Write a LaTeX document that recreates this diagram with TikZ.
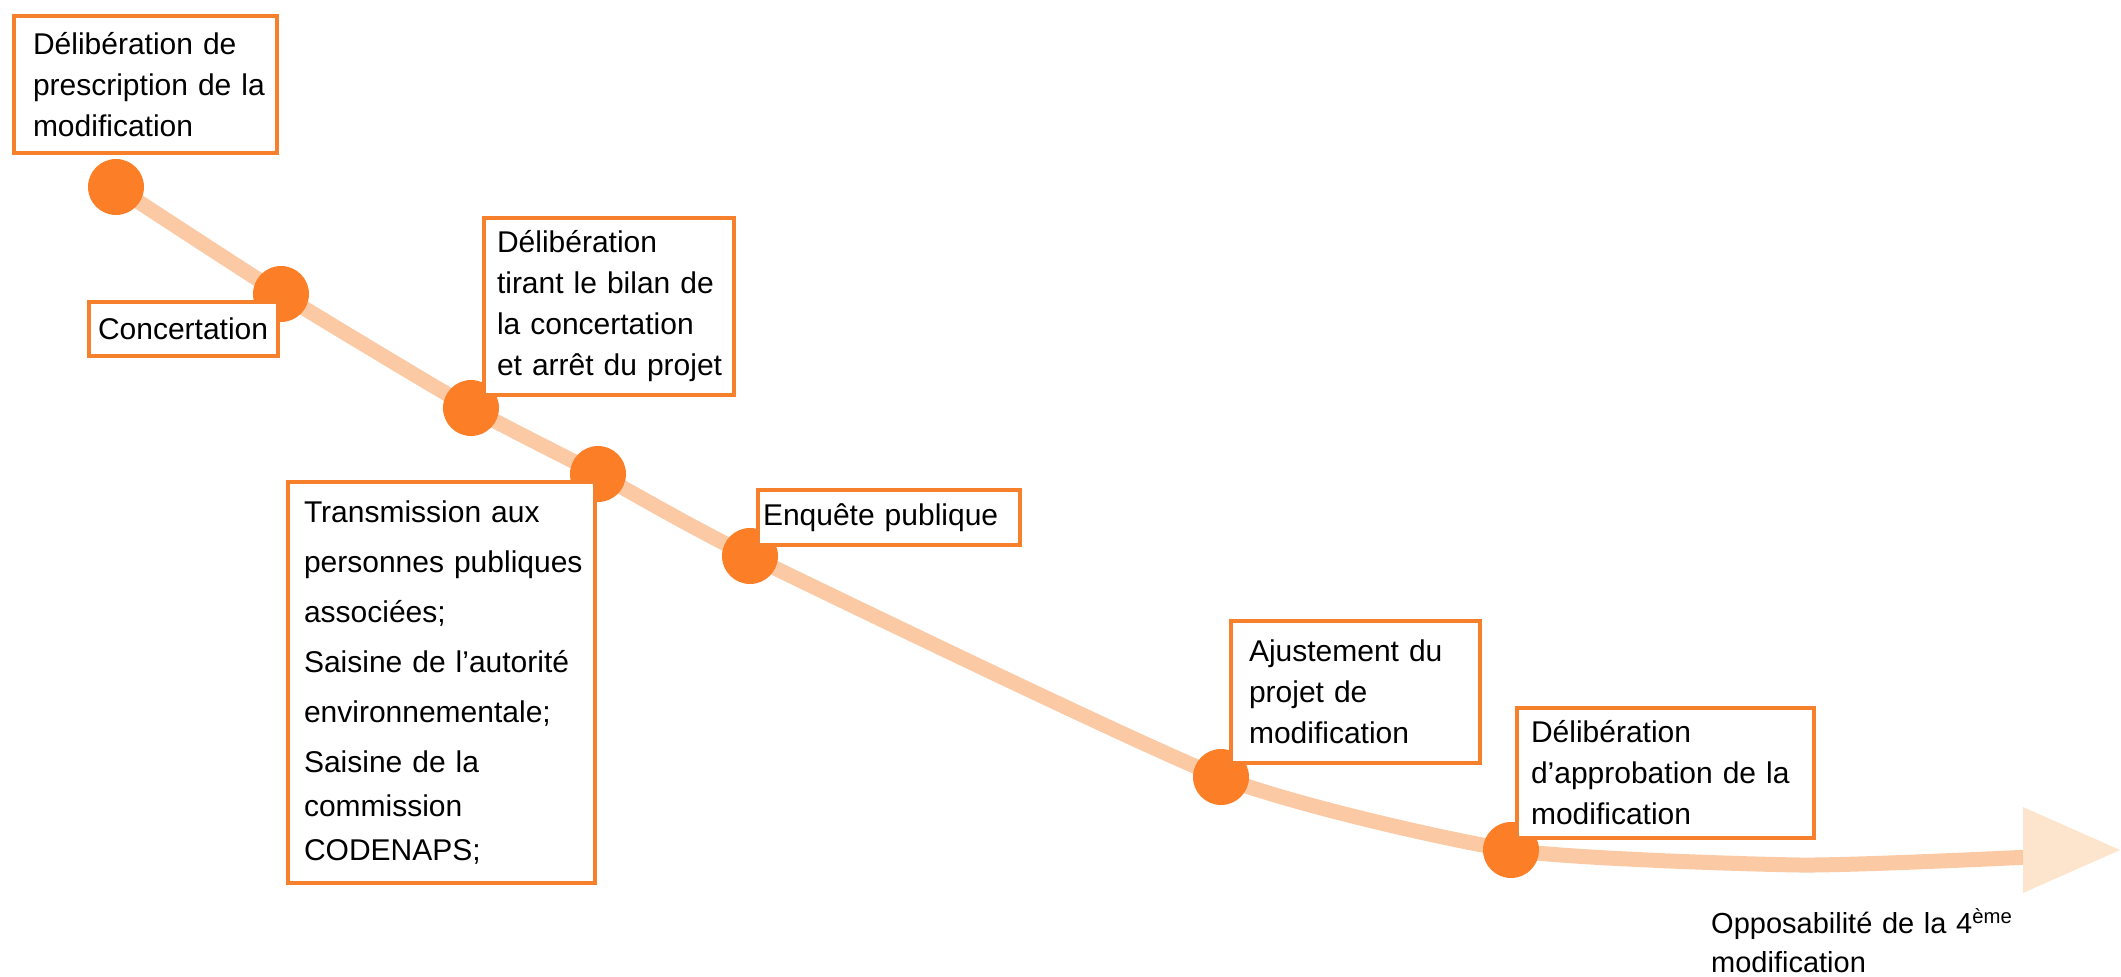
\documentclass[tikz,border=0pt]{standalone}
\usepackage{fontspec}
\setmainfont{Liberation Sans}
\hyphenpenalty=10000
\exhyphenpenalty=10000
\hbadness=10000
\hfuzz=100pt
\definecolor{dotorange}{RGB}{252,127,40}
\definecolor{boxorange}{RGB}{246,128,44}
\definecolor{linepeach}{RGB}{251,202,165}
\definecolor{headpeach}{RGB}{253,228,204}
\begin{document}
\begin{tikzpicture}[x=1pt,y=-1pt,
  dot/.style={circle,fill=dotorange,draw=none,minimum size=56pt,inner sep=0pt},
  stepbox/.style={draw=boxorange,line width=4pt,fill=white,anchor=north west,
    align=left,inner ysep=0pt,font=\fontsize{30}{41}\selectfont},
  curve/.style={draw=linepeach,line width=15pt},
  note/.style={anchor=base west,align=left,inner sep=0pt,text width=400pt,
    font=\fontsize{29}{39}\selectfont}]
\useasboundingbox (0,0) rectangle (2121,977);
% positions of the milestones
\coordinate (p1) at (116,187);
\coordinate (p2) at (281,294);
\coordinate (p3) at (471,408);
\coordinate (p4) at (598,474);
\coordinate (p5) at (750,556);
\coordinate (p6) at (1221,777);
\coordinate (p7) at (1511,850);
\coordinate (q1) at (1800,865);
\coordinate (tail) at (2030,857);
% time line
\draw[curve] plot[smooth,tension=0.35] coordinates {(p1) (p2) (p3) (p4) (p5) (p6) (p7) (q1) (tail)};
\fill[headpeach] (2023,807) -- (2120,850) -- (2023,893) -- cycle;
% milestones
\node[dot] (d1) at (p1) {};
\node[dot] (d2) at (p2) {};
\node[dot] (d3) at (p3) {};
\node[dot] (d4) at (p4) {};
\node[dot] (d5) at (p5) {};
\node[dot] (d6) at (p6) {};
\node[dot] (d7) at (p7) {};
% boxes
\node[stepbox,inner xsep=19pt,minimum width=263pt,text width=225pt,minimum height=137pt] (b1) at (12,14)
  {Délibération~de\\prescription~de~la\\modification};
\node[stepbox,inner xsep=9pt,minimum width=189pt,text width=171pt,minimum height=54pt] (b2) at (87,300)
  {Concertation};
\node[stepbox,inner xsep=13pt,minimum width=250pt,text width=224pt,minimum height=177pt] (b3) at (482,216)
  {Délibération\\tirant~le~bilan~de\\la~concertation\\et~arrêt~du~projet};
\node[stepbox,inner xsep=16pt,minimum width=307pt,text width=275pt,minimum height=401pt,
  font=\fontsize{30}{44}\selectfont] (b4) at (286,480)
  {Transmission~aux\\[6pt]personnes~publiques\\[6pt]associées;\\[6pt]Saisine~de~l’autorité\\[6pt]environnementale;\\[6pt]Saisine~de~la\\commission\\CODENAPS;};
\node[stepbox,inner xsep=5pt,minimum width=262pt,text width=252pt,minimum height=55pt] (b5) at (756,488)
  {Enquête~publique};
\node[stepbox,inner xsep=18pt,minimum width=249pt,text width=213pt,minimum height=142pt] (b6) at (1229,619)
  {Ajustement~du\\projet~de\\modification};
\node[stepbox,inner xsep=14pt,minimum width=297pt,text width=269pt,minimum height=130pt] (b7) at (1515,706)
  {Délibération\\d’approbation~de~la\\modification};
\node[note] (end) at (1711,933) {Opposabilité de la 4\textsuperscript{ème}\\modification};
\end{tikzpicture}
\end{document}
